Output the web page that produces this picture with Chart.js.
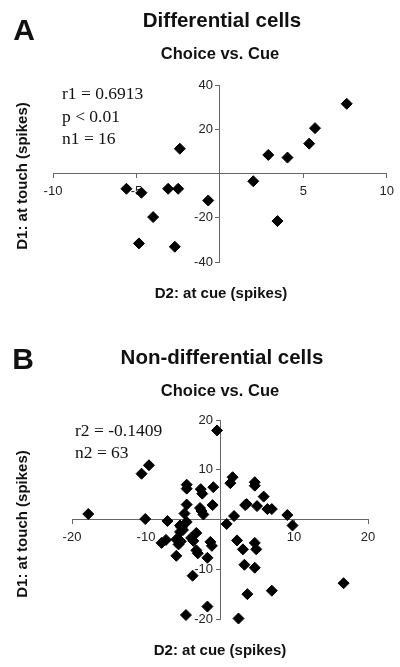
<!DOCTYPE html>
<html>
<head>
<meta charset="utf-8">
<script src="https://cdn.jsdelivr.net/npm/chart.js@4.4.0/dist/chart.umd.min.js"></script>
<style>
  html, body { margin: 0; padding: 0; background: #fff; }
  #wrap { position: relative; width: 400px; height: 667px; overflow: hidden; }
  canvas { position: absolute; left: 0; }
  .t { position: absolute; color: #111; white-space: nowrap; transform: translate(-50%, -50%); }
  .sans { font-family: Arial, "Liberation Sans", sans-serif; font-weight: bold; }
  .serif { font-family: "Times New Roman", "Liberation Serif", serif; font-size: 17.5px; transform: translate(0, -50%); }
  .panel { font-size: 30px; }
  .title { font-size: 20.5px; }
  .sub { font-size: 16.5px; }
  .axis { font-size: 15px; }
  .rot { transform: translate(-50%, -50%) rotate(-90deg); }
</style>
</head>
<body>
<div id="wrap">
  <canvas id="chartA" width="400" height="333" style="top:0"></canvas>
  <canvas id="chartB" width="400" height="334" style="top:333px"></canvas>

  <div class="t sans panel" style="left:24px; top:30px">A</div>
  <div class="t sans title" style="left:222px; top:20px">Differential cells</div>
  <div class="t sans sub" style="left:220px; top:53px">Choice vs. Cue</div>
  <div class="t serif" style="left:62px; top:93px">r1 = 0.6913</div>
  <div class="t serif" style="left:62px; top:116px">p &lt; 0.01</div>
  <div class="t serif" style="left:62px; top:138px">n1 = 16</div>
  <div class="t sans axis rot" style="left:21px; top:176px">D1: at touch (spikes)</div>
  <div class="t sans axis" style="left:221px; top:292px">D2: at cue (spikes)</div>

  <div class="t sans panel" style="left:23px; top:359px">B</div>
  <div class="t sans title" style="left:222px; top:357px">Non-differential cells</div>
  <div class="t sans sub" style="left:220px; top:390px">Choice vs. Cue</div>
  <div class="t serif" style="left:75px; top:430px">r2 = -0.1409</div>
  <div class="t serif" style="left:75px; top:452px">n2 = 63</div>
  <div class="t sans axis rot" style="left:21px; top:524px">D1: at touch (spikes)</div>
  <div class="t sans axis" style="left:220px; top:649px">D2: at cue (spikes)</div>
</div>

<script>
// Panel A: differential cells (n1 = 16)
const aCue = [-5.6, -4.7, -3.1, -2.5, -2.4, -4.0, -4.85, -2.7, -0.7,
              2.0, 2.9, 4.05, 5.35, 5.7, 7.6, 3.45];
const aTouch = [-6.9, -8.7, -6.9, -6.9, 11.2, -19.7, -31.6, -33.1, -12.2,
                -3.5, 8.4, 7.2, 13.5, 20.5, 31.5, -21.5];
const aXRange = [-10, 10];
const aYRange = [-40, 40];
const aXStep = 5;
const aYStep = 20;

// Panel B: non-differential cells (n2 = 63)
const bCue = [-17.8, -10.6, -9.6, -10.1, -7.1, -4.5, -4.5, -2.6, -2.4, -0.9,
              -4.5, -2.7, -2.5, -2.25, -1.0, -4.8, -4.5, -5.4, -5.2, -5.0,
              -5.4, -7.9, -7.3, -5.9, -5.6, -5.3, -3.9, -3.6, -3.2, -3.2,
              -5.9, -1.3, -1.1, -1.7, -3.7, -0.4, 1.7, 1.4, 4.7, 4.7,
              5.9, 3.4, 3.6, 5.0, 6.4, 7.0, 1.9, 0.9, 9.1, 9.8,
              2.3, 3.1, 4.7, 4.9, 3.3, 4.7, 16.7, 3.7, 7.0, -1.7,
              -4.6, 2.5, -3.0];
const bTouch = [1.1, 9.2, 10.9, 0.1, -0.3, 7.0, 6.2, 6.1, 5.2, 6.5,
                3.0, 2.3, 1.7, 1.0, 2.9, 1.2, -0.5, -1.2, -1.6, -2.1,
                -2.5, -4.7, -4.1, -4.0, -5.0, -4.4, -3.7, -4.3, -2.7, -6.2,
                -7.3, -4.5, -5.3, -7.7, -11.3, 17.9, 8.5, 7.3, 7.5, 6.8,
                4.6, 2.9, 3.1, 2.7, 2.1, 2.1, 0.7, -0.9, 0.9, -1.2,
                -4.2, -6.0, -4.7, -6.0, -9.1, -9.7, -12.8, -15.0, -14.3, -17.5,
                -19.2, -19.9, -6.8];
const bXRange = [-20, 20];
const bYRange = [-20, 20];
const bXStep = 10;
const bYStep = 10;

const tickFont = '13px Arial, "Liberation Sans", sans-serif';

function toPoints(xs, ys) {
  return xs.map((x, i) => ({ x: x, y: ys[i] }));
}

// centred y axis: chart.js puts its labels right on the axis line,
// so draw them here a few px to the left instead
const yLabels = {
  id: 'yLabels',
  afterDraw(chart) {
    const ys = chart.scales.y;
    const axisX = chart.scales.x.getPixelForValue(0);
    const ctx = chart.ctx;
    ctx.save();
    ctx.font = tickFont;
    ctx.fillStyle = '#222';
    ctx.textAlign = 'right';
    ctx.textBaseline = 'middle';
    ys.ticks.forEach(t => {
      if (t.value === 0) return;
      ctx.fillText(String(t.value), axisX - 7, ys.getPixelForValue(t.value));
    });
    ctx.restore();
  }
};

function axis(range, step, other, showLabels) {
  return {
    type: 'linear',
    min: range[0],
    max: range[1],
    position: other,
    border: { display: true, color: '#666', width: 1 },
    grid: { drawOnChartArea: false, drawTicks: true, tickLength: 4, color: '#666' },
    ticks: {
      display: showLabels,
      stepSize: step,
      padding: 6,
      color: '#222',
      font: { family: 'Arial, "Liberation Sans", sans-serif', size: 13 },
      maxRotation: 0,
      callback: function(v) { return v === 0 ? '' : v; }
    }
  };
}

function makeChart(id, xs, ys, xRange, yRange, xStep, yStep, padding) {
  const ctx = document.getElementById(id).getContext('2d');
  return new Chart(ctx, {
    type: 'scatter',
    data: {
      datasets: [{
        data: toPoints(xs, ys),
        pointStyle: 'rectRot',
        pointRadius: 5.5,
        pointBackgroundColor: '#000',
        pointBorderColor: '#000',
        pointBorderWidth: 1,
        clip: false
      }]
    },
    options: {
      responsive: false,
      animation: false,
      layout: { padding: padding },
      scales: {
        x: axis(xRange, xStep, { y: 0 }, true),
        y: axis(yRange, yStep, { x: 0 }, false)
      },
      plugins: {
        legend: { display: false },
        tooltip: { enabled: false }
      }
    },
    plugins: [yLabels]
  });
}

makeChart('chartA', aCue, aTouch, aXRange, aYRange, aXStep, aYStep,
  { left: 53, right: 13, top: 85, bottom: 71 });
makeChart('chartB', bCue, bTouch, bXRange, bYRange, bXStep, bYStep,
  { left: 72, right: 32, top: 87, bottom: 48 });
</script>
</body>
</html>
